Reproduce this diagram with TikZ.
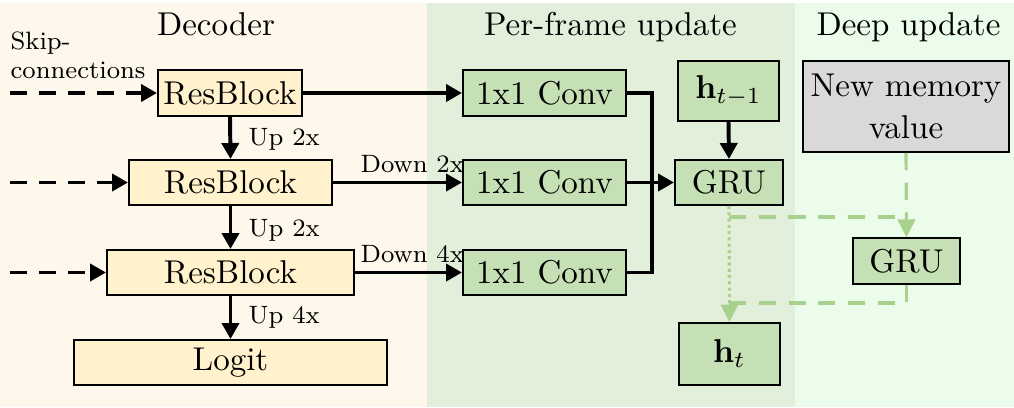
\documentclass[tikz,border=0pt]{standalone}
\usetikzlibrary{arrows.meta}
\definecolor{decbg}{HTML}{FEF8EC}
\definecolor{pfbg}{HTML}{E2EFDA}
\definecolor{dpbg}{HTML}{EBFCEB}
\definecolor{yfill}{HTML}{FFF2CC}
\definecolor{gfill}{HTML}{C5E0B4}
\definecolor{mfill}{HTML}{D9D9D9}
\definecolor{glinec}{HTML}{A9D18E}
\begin{document}
\begin{tikzpicture}[x=0.303pt,y=-0.303pt,
  box/.style={draw=black, line width=0.6pt, inner sep=0pt, font=\fontsize{10}{12.7}\selectfont},
  ybox/.style={box, fill=yfill},
  gbox/.style={box, fill=gfill},
  blk/.style={line width=1.2pt, -{Triangle[length=4.85pt,width=5.15pt]}},
  skiparr/.style={blk, dash pattern=on 5.2pt off 3.6pt},
  gline/.style={draw=glinec, line width=0.95pt},
  gtip/.style={-{Triangle[length=5.3pt,width=5.15pt]}},
  gdash/.style={gline, dash pattern=on 5.2pt off 3.8pt},
  gdot/.style={gline, dash pattern=on 0.95pt off 0.95pt},
  lab/.style={font=\fontsize{7.6}{9}\selectfont, inner sep=0pt},
  ttl/.style={font=\fontsize{10}{12}\selectfont, inner sep=0pt, anchor=base}]
\useasboundingbox (0,0) rectangle (1014,408);
% backgrounds
\fill[decbg] (0,3) rectangle (427,407);
\fill[pfbg] (427,3) rectangle (795,407);
\fill[dpbg] (795,3) rectangle (1014,407);
% titles
\node[ttl] (tdec) at (216,36) {Decoder};
\node[ttl] (tpf) at (610.5,36) {Per-frame update};
\node[ttl] (tdp) at (908.5,36) {Deep update};
\node[lab, anchor=base west] (skip1) at (10,50) {Skip-};
\node[lab, anchor=base west] (skip2) at (10,79) {connections};
% decoder boxes
\node[ybox, minimum width={144*0.303pt}, minimum height={46*0.303pt}] (rb1) at (230,93) {ResBlock};
\node[ybox, minimum width={203*0.303pt}, minimum height={45*0.303pt}] (rb2) at (230.5,182.5) {ResBlock};
\node[ybox, minimum width={247*0.303pt}, minimum height={45*0.303pt}] (rb3) at (230.5,272.5) {ResBlock};
\node[ybox, minimum width={313*0.303pt}, minimum height={45*0.303pt}] (logit) at (230.5,362.5) {Logit};
% conv boxes
\node[gbox, minimum width={163*0.303pt}, minimum height={46*0.303pt}] (c1) at (544.5,93) {1x1 Conv};
\node[gbox, minimum width={163*0.303pt}, minimum height={45*0.303pt}] (c2) at (544.5,182.5) {1x1 Conv};
\node[gbox, minimum width={163*0.303pt}, minimum height={45*0.303pt}] (c3) at (544.5,272.5) {1x1 Conv};
% hidden state and GRU
\node[gbox, minimum width={101*0.303pt}, minimum height={60*0.303pt}] (hp) at (728.5,91) {$\mathbf{h}_{t-1}$};
\node[gbox, minimum width={108*0.303pt}, minimum height={45*0.303pt}] (g1) at (729,182.5) {GRU};
\node[gbox, minimum width={101*0.303pt}, minimum height={62*0.303pt}] (ht) at (729.5,354) {$\mathbf{h}_{t}$};
% deep update
\node[box, fill=mfill, align=center, minimum width={206*0.303pt}, minimum height={91*0.303pt}] (nm) at (906,106.5) {New memory\\value};
\node[gbox, minimum width={107*0.303pt}, minimum height={46*0.303pt}] (g2) at (906.5,261) {GRU};
% skip connections
\coordinate (s1) at (10,93);
\coordinate (s2) at (10,182.5);
\coordinate (s3) at (10,272.5);
\draw[skiparr] (s1) -- (rb1.west);
\draw[skiparr] (s2) -- (rb2.west);
\draw[skiparr] (s3) -- (rb3.west);
% up arrows
\draw[blk] (rb1.south) -- (rb2.north);
\draw[blk] (rb2.south) -- (rb3.north);
\draw[blk] (rb3.south) -- (logit.north);
\node[lab, anchor=base west] (up1) at (248,146) {Up 2x};
\node[lab, anchor=base west] (up2) at (248,236) {Up 2x};
\node[lab, anchor=base west] (up3) at (248,323) {Up 4x};
% to convs
\draw[blk] (rb1.east) -- (c1.west);
\draw[blk] (rb2.east) -- (c2.west);
\draw[blk] (rb3.east) -- (c3.west);
\node[lab, anchor=base west] (dn2) at (360,172) {Down 2x};
\node[lab, anchor=base west] (dn4) at (360,262) {Down 4x};
% convs to GRU
\coordinate (jn) at (652,182.5);
\draw[line width=1.2pt] (c1.east) -| (jn);
\draw[line width=1.2pt] (c3.east) -| (jn);
\draw[blk] (c2.east) -- (g1.west);
\draw[blk] (hp.south) -- (g1.north);
% green connectors
\coordinate (sp1) at (729,217);
\coordinate (sp2) at (729,303);
\draw[gdash] (g2.south) |- (sp2);
\draw[gdash, gtip] (sp1) -| (g2.north);
\draw[gdash, gtip] (nm.south) -- (g2.north);
\draw[gdot, gtip] (g1.south) -- (ht.north);
\end{tikzpicture}
\end{document}
